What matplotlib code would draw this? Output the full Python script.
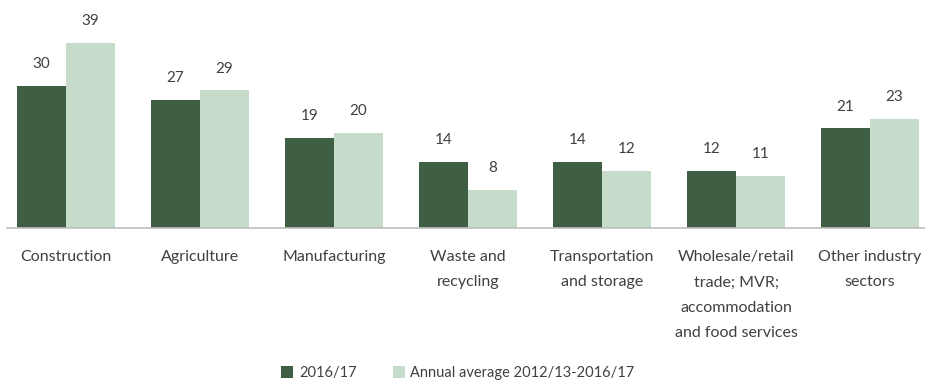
import matplotlib
matplotlib.use("Agg")
import matplotlib.pyplot as plt
import numpy as np

categories = [
    "Construction",
    "Agriculture",
    "Manufacturing",
    "Waste and\nrecycling",
    "Transportation\nand storage",
    "Wholesale/retail\ntrade; MVR;\naccommodation\nand food services",
    "Other industry\nsectors",
]
series_names = ["2016/17", "Annual average 2012/13-2016/17"]
values_2016 = [30, 27, 19, 14, 14, 12, 21]
values_avg = [39, 29, 20, 8, 12, 11, 23]

dark = "#3f5f45"
light = "#c6dbc9"
text_color = "#404040"

plt.rcParams["font.family"] = ["Lato", "DejaVu Sans"]

fig = plt.figure(figsize=(9.25, 3.83), dpi=100)
ax = fig.add_axes([7 / 925, (383 - 228) / 383, 918 / 925, 228 / 383])

x = np.arange(len(categories))
w = 0.366
b1 = ax.bar(x - w / 2, values_2016, w, color=dark, label=series_names[0])
b2 = ax.bar(x + w / 2, values_avg, w, color=light, label=series_names[1])

for bars in (b1, b2):
    for r in bars:
        h = r.get_height()
        ax.annotate(f"{h:g}", (r.get_x() + r.get_width() / 2, h),
                    xytext=(0, 15.5), textcoords="offset points",
                    ha="center", va="center", fontsize=11, color=text_color)

ax.set_xlim(-0.44, 6.41)
ax.set_ylim(0, 48)
ax.set_yticks([])
ax.set_xticks(x)
ax.set_xticklabels(categories, fontsize=11.5, color=text_color, linespacing=2.02,
                   va="top")
ax.tick_params(axis="x", length=0, pad=16)
for s in ("top", "right", "left"):
    ax.spines[s].set_visible(False)
ax.spines["bottom"].set_color("#bfbfbf")
ax.spines["bottom"].set_linewidth(1.2)

fig.legend(handles=[b1, b2], labels=series_names, loc="center",
           bbox_to_anchor=(458 / 925, 1 - 373 / 383), ncol=2, frameon=False,
           fontsize=10.5, labelcolor=text_color, handlelength=0.8,
           handleheight=0.8, handletextpad=0.4, columnspacing=2.5)

fig.savefig("out.png", dpi=100)
